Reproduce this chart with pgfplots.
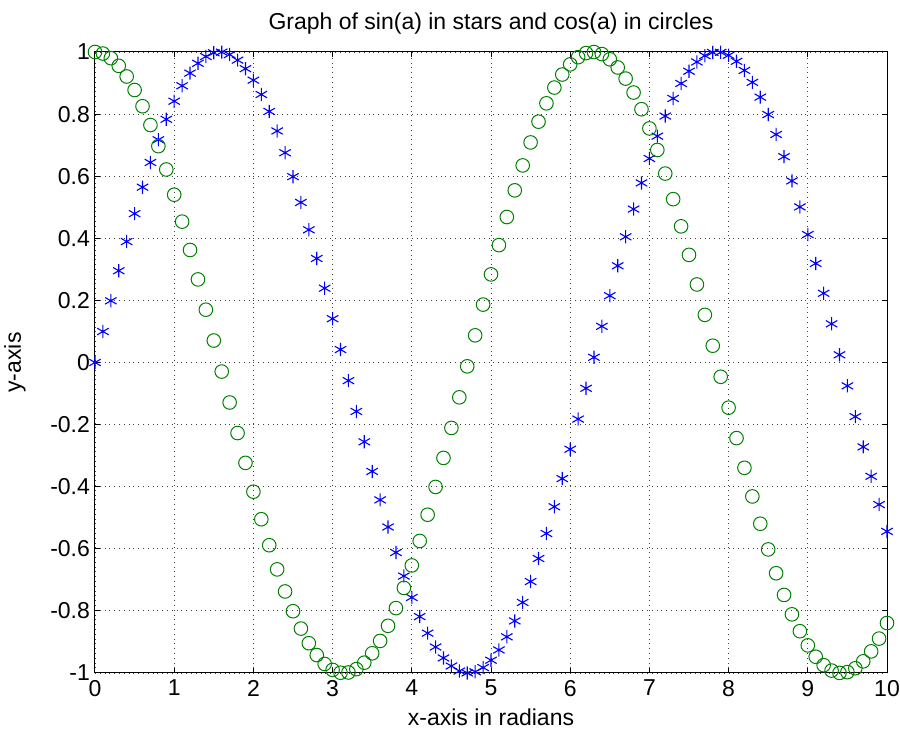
\documentclass[border=0pt]{standalone}
\usepackage{pgfplots}
\pgfplotsset{compat=1.18}
\usepackage{fontspec}
\setmainfont{Liberation Sans}
\definecolor{mblue}{rgb}{0,0,1}
\definecolor{mgreen}{rgb}{0,0.5,0}

\pgfplotstableread{
a sina cosa
0.0 0.0000 1.0000
0.1 0.0998 0.9950
0.2 0.1987 0.9801
0.3 0.2955 0.9553
0.4 0.3894 0.9211
0.5 0.4794 0.8776
0.6 0.5646 0.8253
0.7 0.6442 0.7648
0.8 0.7174 0.6967
0.9 0.7833 0.6216
1.0 0.8415 0.5403
1.1 0.8912 0.4536
1.2 0.9320 0.3624
1.3 0.9636 0.2675
1.4 0.9854 0.1700
1.5 0.9975 0.0707
1.6 0.9996 -0.0292
1.7 0.9917 -0.1288
1.8 0.9738 -0.2272
1.9 0.9463 -0.3233
2.0 0.9093 -0.4161
2.1 0.8632 -0.5048
2.2 0.8085 -0.5885
2.3 0.7457 -0.6663
2.4 0.6755 -0.7374
2.5 0.5985 -0.8011
2.6 0.5155 -0.8569
2.7 0.4274 -0.9041
2.8 0.3350 -0.9422
2.9 0.2392 -0.9710
3.0 0.1411 -0.9900
3.1 0.0416 -0.9991
3.2 -0.0584 -0.9983
3.3 -0.1577 -0.9875
3.4 -0.2555 -0.9668
3.5 -0.3508 -0.9365
3.6 -0.4425 -0.8968
3.7 -0.5298 -0.8481
3.8 -0.6119 -0.7910
3.9 -0.6878 -0.7259
4.0 -0.7568 -0.6536
4.1 -0.8183 -0.5748
4.2 -0.8716 -0.4903
4.3 -0.9162 -0.4008
4.4 -0.9516 -0.3073
4.5 -0.9775 -0.2108
4.6 -0.9937 -0.1122
4.7 -0.9999 -0.0124
4.8 -0.9962 0.0875
4.9 -0.9825 0.1865
5.0 -0.9589 0.2837
5.1 -0.9258 0.3780
5.2 -0.8835 0.4685
5.3 -0.8323 0.5544
5.4 -0.7728 0.6347
5.5 -0.7055 0.7087
5.6 -0.6313 0.7756
5.7 -0.5507 0.8347
5.8 -0.4646 0.8855
5.9 -0.3739 0.9275
6.0 -0.2794 0.9602
6.1 -0.1822 0.9833
6.2 -0.0831 0.9965
6.3 0.0168 0.9999
6.4 0.1165 0.9932
6.5 0.2151 0.9766
6.6 0.3115 0.9502
6.7 0.4048 0.9144
6.8 0.4941 0.8694
6.9 0.5784 0.8157
7.0 0.6570 0.7539
7.1 0.7290 0.6845
7.2 0.7937 0.6084
7.3 0.8504 0.5261
7.4 0.8987 0.4385
7.5 0.9380 0.3466
7.6 0.9679 0.2513
7.7 0.9882 0.1534
7.8 0.9985 0.0540
7.9 0.9989 -0.0460
8.0 0.9894 -0.1455
8.1 0.9699 -0.2435
8.2 0.9407 -0.3392
8.3 0.9022 -0.4314
8.4 0.8546 -0.5193
8.5 0.7985 -0.6020
8.6 0.7344 -0.6787
8.7 0.6630 -0.7486
8.8 0.5849 -0.8111
8.9 0.5010 -0.8654
9.0 0.4121 -0.9111
9.1 0.3191 -0.9477
9.2 0.2229 -0.9748
9.3 0.1245 -0.9922
9.4 0.0248 -0.9997
9.5 -0.0752 -0.9972
9.6 -0.1743 -0.9847
9.7 -0.2718 -0.9624
9.8 -0.3665 -0.9304
9.9 -0.4575 -0.8892
10.0 -0.5440 -0.8391
}\trig

\begin{document}
\begin{tikzpicture}
\begin{axis}[
  name=ax,
  scale only axis,
  width=396pt, height=310.5pt,
  xmin=0, xmax=10, ymin=-1, ymax=1,
  xtick={0,1,...,10},
  ytick={-1,-0.8,-0.6,-0.4,-0.2,0,0.2,0.4,0.6,0.8,1},
  yticklabels={-1,-0.8,-0.6,-0.4,-0.2,0,0.2,0.4,0.6,0.8,1},
  xticklabels={0,1,2,3,4,5,6,7,8,9,10},
  tick align=inside,
  major tick length=2.5pt,
  xtick pos=both, ytick pos=both,
  grid=major,
  major grid style={dotted, black!75, line width=0.4pt},
  axis line style={black, line width=0.5pt},
  tick style={black, line width=0.5pt},
  font=\fontsize{11.5}{13}\selectfont,
  ticklabel style={font=\fontsize{11.5}{13}\selectfont},
  yticklabel style={xshift=1pt},
  title={Graph of sin(a) in stars and cos(a) in circles},
  title style={yshift=-0.5pt},
  xlabel={x-axis in radians},
  ylabel={y-axis},
  xlabel style={yshift=-1.5pt, inner sep=1pt},
  ylabel style={yshift=5.5pt},
  clip=false,
]
\addplot[only marks, mark=asterisk, mark size=3.3pt, color=mblue, mark options={line width=0.55pt}]
  table[x=a, y=sina] {\trig};
\addplot[only marks, mark=o, mark size=3.4pt, color=mgreen, mark options={line width=0.5pt}]
  table[x=a, y=cosa] {\trig};
\end{axis}
\pgfresetboundingbox
\path ([shift={(-47.5pt,-30pt)}]ax.south west) rectangle ([shift={(6.5pt,26pt)}]ax.north east);
\end{tikzpicture}
\end{document}
